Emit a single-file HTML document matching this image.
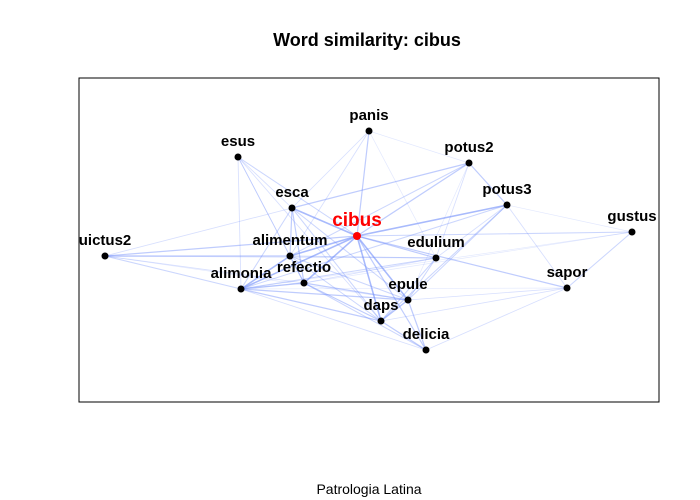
<!DOCTYPE html>
<html><head><meta charset="utf-8"><style>
body{margin:0;background:#fff}
svg{display:block;font-family:"Liberation Sans",sans-serif}
</style></head><body>
<svg id="chart" width="700" height="500">
<text x="367" y="46" text-anchor="middle" font-size="18" font-weight="bold">Word similarity:  cibus</text>
<rect x="79" y="78" width="580" height="324" fill="none" stroke="#000" stroke-width="1"/>
<text x="369" y="494" text-anchor="middle" font-size="14">Patrologia Latina</text>
<g id="edges"></g><g id="nodes"></g>
</svg>
<script>
const nodeNames=["cibus","panis","esus","potus2","potus3","esca","gustus","uictus2","alimentum","edulium","refectio","alimonia","sapor","epule","daps","delicia"];
const nodeX=[357,369,238,469,507,292,632,105,290,436,304,241,567,408,381,426];
const nodeY=[236,131,157,163,205,208,232,256,256,258,283,289,288,300,321,350];
const edgeFrom=["cibus","cibus","cibus","cibus","cibus","cibus","cibus","cibus","cibus","cibus","cibus","cibus","cibus","cibus","cibus","esca","esca","esca","esca","esca","esca","esca","esca","esus","esus","esus","esus","panis","panis","panis","panis","potus2","potus2","potus2","potus2","potus3","potus3","potus3","potus3","potus3","potus3","gustus","gustus","gustus","uictus2","uictus2","uictus2","uictus2","uictus2","alimentum","alimentum","alimentum","alimentum","alimentum","alimonia","alimonia","alimonia","alimonia","alimonia","alimonia","refectio","refectio","refectio","refectio","edulium","edulium","epule","epule","epule","daps","daps","delicia"];
const edgeTo=["panis","esus","potus2","potus3","esca","gustus","alimentum","edulium","refectio","alimonia","epule","daps","delicia","sapor","uictus2","potus2","alimentum","refectio","alimonia","uictus2","esus","epule","daps","alimonia","refectio","daps","alimentum","esca","alimentum","potus2","edulium","potus3","alimentum","edulium","epule","alimonia","epule","daps","sapor","gustus","edulium","sapor","alimonia","refectio","alimentum","alimonia","refectio","edulium","epule","alimonia","refectio","edulium","epule","daps","refectio","epule","daps","delicia","edulium","sapor","epule","daps","delicia","edulium","epule","daps","daps","delicia","sapor","delicia","sapor","sapor"];
const edgeWeight=[2,1.5,2,3,3,1.5,3,2,3,3,3,3,2,2,2,2,2,2,1.5,1,1,1.5,1.5,1,1,1,1,1,1,0.5,0.5,2,1.5,1,0.5,1.5,1.5,1.5,1,0.5,1,1.5,0.5,0.5,2,1.5,1,1,0.5,3,2,1.5,1.5,1.5,2.5,2,2,1,1.5,0.5,2,2,1.5,1,1.5,1.5,2.5,2,1,2,1,1];
const NS="http://www.w3.org/2000/svg";
const eg=document.getElementById('edges'),ng=document.getElementById('nodes');
const px=i=>nodeX[i], py=i=>nodeY[i];
for(let k=0;k<edgeFrom.length;k++){
  const a=nodeNames.indexOf(edgeFrom[k]),b=nodeNames.indexOf(edgeTo[k]);
  const w=edgeWeight[k];
  const l=document.createElementNS(NS,'line');
  l.setAttribute('x1',px(a));l.setAttribute('y1',py(a));l.setAttribute('x2',px(b));l.setAttribute('y2',py(b));
  l.setAttribute('stroke','rgb(110,140,250)');
  l.setAttribute('stroke-width',0.5+w*0.35);
  l.setAttribute('stroke-opacity',0.12+w*0.16);
  
  
  eg.appendChild(l);
}
for(let i=0;i<nodeNames.length;i++){
  const main=i===0;
  const c=document.createElementNS(NS,'circle');
  c.setAttribute('cx',px(i));c.setAttribute('cy',py(i));c.setAttribute('r',main?4:3.5);
  c.setAttribute('fill',main?'#f00':'#000');
  
  
  ng.appendChild(c);
  const t=document.createElementNS(NS,'text');
  t.setAttribute('x',px(i));t.setAttribute('y',py(i)-(main?10:11));
  t.setAttribute('text-anchor','middle');t.setAttribute('font-weight','bold');
  t.setAttribute('font-size',main?19:15);
  t.setAttribute('fill',main?'#f00':'#000');
  t.textContent=nodeNames[i];
  
  
  ng.appendChild(t);
}
</script>
</body></html>
